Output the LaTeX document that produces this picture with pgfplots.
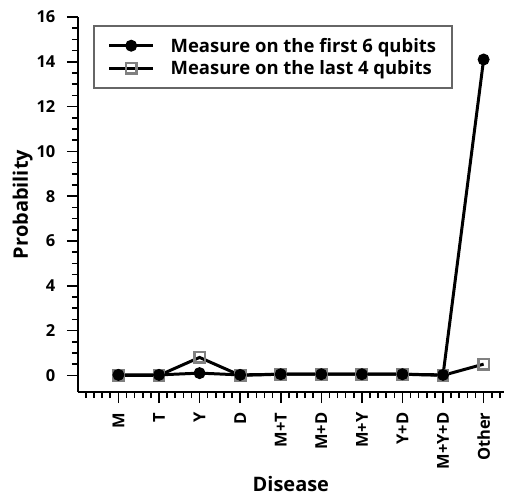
\documentclass[border=0pt]{standalone}
\usepackage{fontspec}
\setmainfont{Open Sans}
\usepackage{pgfplots}
\pgfplotsset{compat=1.18}
\begin{document}
\begin{tikzpicture}
\begin{axis}[
  scale only axis,
  width=427pt, height=376pt,
  xmin=-1, xmax=9.5,
  ymin=-0.75, ymax=16,
  axis x line=bottom, axis y line=left,
  axis line style={line width=2.2pt,-},
  x axis line style={-}, y axis line style={-},
  xtick={0,1,2,3,4,5,6,7,8,9},
  xticklabels={M,T,Y,D,M+T,M+D,M+Y,Y+D,M+Y+D,Other},
  minor xtick={-0.8,-0.6,...,9.4},
  ytick={0,2,4,6,8,10,12,14,16},
  minor ytick={0.5,1,...,15.5},
  tick align=outside,
  major tick length=11pt, minor tick length=6pt,
  every tick/.style={line width=1.6pt,black},
  xticklabel shift=6pt, yticklabel shift=8pt,
  x tick label style={rotate=90, anchor=east, font=\bfseries\fontsize{16.5}{19}\selectfont},
  y tick label style={font=\bfseries\fontsize{16.5}{19}\selectfont},
  /pgf/number format/assume math mode=true,
  xlabel={Disease}, ylabel={Probability},
  xlabel style={font=\bfseries\fontsize{20}{24}\selectfont},
  ylabel style={font=\bfseries\fontsize{20}{24}\selectfont},
  ylabel shift=-3pt,
  legend style={at={(15pt,368pt)}, anchor=north west, draw=black!60, line width=2pt,
    font=\bfseries\fontsize{18.5}{22}\selectfont, inner xsep=14pt, inner ysep=10pt, row sep=3pt,
    /tikz/every odd column/.append style={column sep=14pt}},
  legend image code/.code={
    \draw[#1, mark repeat=2, mark phase=2] plot coordinates {(0pt,0pt) (22pt,0pt) (44pt,0pt)};
  },
  legend cell align=left,
  reverse legend,
  clip=false,
]
\addplot[black, line width=3pt, mark=square, mark size=5.2pt,
  mark options={draw=black!50, fill=white, line width=2.4pt}] coordinates {
 (0,0) (1,0) (2,0.8) (3,0) (4,0.05) (5,0.05) (6,0.05) (7,0.05) (8,0) (9,0.5)};
\addlegendentry{Measure on the last 4 qubits}
\addplot[black, line width=3pt, mark=*, mark size=5.5pt,
  mark options={draw=black, fill=black, line width=1pt}] coordinates {
 (0,0.02) (1,0.02) (2,0.1) (3,0.02) (4,0.05) (5,0.05) (6,0.05) (7,0.05) (8,0.02) (9,14.1)};
\addlegendentry{Measure on the first 6 qubits}
\end{axis}
\path ([yshift=17pt]current axis.north west) ([xshift=-78pt,yshift=-106pt]current axis.south west);
\end{tikzpicture}
\end{document}
